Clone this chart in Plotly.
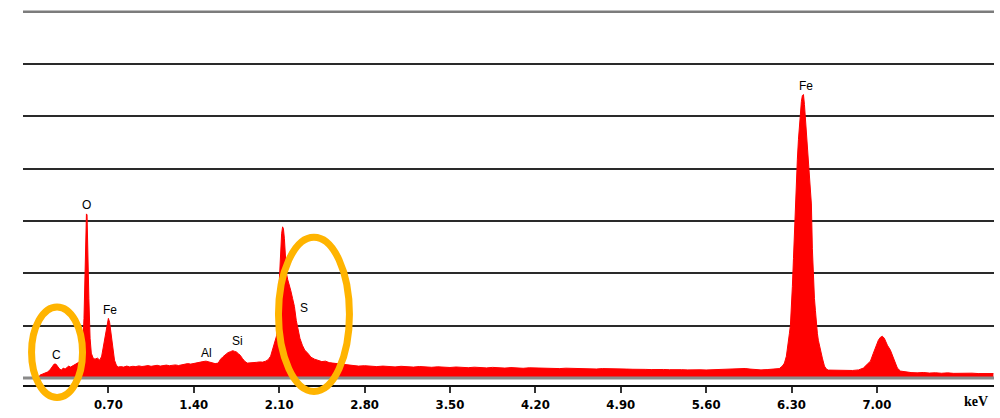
import plotly.graph_objects as go

# EDS spectrum: energy (keV) and counts per channel
energy_kev = [
    0.13, 0.14, 0.16, 0.18, 0.20, 0.22, 0.24, 0.255, 0.27, 0.285, 0.30, 0.315, 0.33, 0.345,
    0.36, 0.375, 0.39, 0.405, 0.42, 0.44, 0.46, 0.475, 0.49, 0.50, 0.51, 0.515, 0.52, 0.525,
    0.53, 0.54, 0.55, 0.56, 0.575, 0.59, 0.61, 0.63, 0.645, 0.66, 0.675, 0.69, 0.70, 0.71,
    0.72, 0.735, 0.75, 0.765, 0.78,
    0.80, 0.825, 0.85, 0.875, 0.90, 0.925, 0.95, 0.975, 1.00, 1.025, 1.05, 1.075, 1.10,
    1.125, 1.15, 1.175, 1.20, 1.225, 1.25, 1.275, 1.30, 1.325, 1.35, 1.375, 1.40, 1.425,
    1.45, 1.475, 1.50, 1.525, 1.55, 1.575, 1.60,
    1.62, 1.64, 1.66, 1.68, 1.70, 1.72, 1.735, 1.75, 1.765, 1.78, 1.80, 1.82, 1.84, 1.865,
    1.89, 1.915, 1.94, 1.965, 1.99, 2.01, 2.03, 2.05, 2.065, 2.08, 2.09, 2.10, 2.11, 2.12,
    2.128, 2.135, 2.143, 2.152, 2.16, 2.17, 2.18, 2.195, 2.21, 2.225, 2.24, 2.255, 2.27,
    2.29, 2.31, 2.335, 2.36, 2.39, 2.42, 2.45, 2.48, 2.51, 2.54, 2.57, 2.60, 2.63, 2.66,
    2.70, 2.75, 2.80, 2.85, 2.90, 2.95, 3.00, 3.05, 3.10, 3.15, 3.20, 3.25, 3.30, 3.35,
    3.40, 3.45, 3.50, 3.55, 3.60, 3.65, 3.70, 3.75, 3.80, 3.85, 3.90, 3.95, 4.00, 4.05,
    4.10, 4.15, 4.20, 4.25, 4.30, 4.35, 4.40, 4.45, 4.50, 4.55, 4.60, 4.65, 4.70, 4.75,
    4.80, 4.85, 4.90, 4.95, 5.00, 5.05, 5.10, 5.15, 5.20, 5.25, 5.30, 5.35, 5.40, 5.45,
    5.50, 5.55, 5.60, 5.65, 5.70, 5.75, 5.80, 5.85, 5.88, 5.92, 5.96, 6.00, 6.05, 6.10,
    6.15, 6.20,
    6.225, 6.242, 6.258, 6.275, 6.283, 6.291, 6.299, 6.307, 6.316, 6.324, 6.332, 6.340,
    6.348, 6.357, 6.365, 6.373, 6.381, 6.389, 6.398, 6.406, 6.414, 6.422, 6.430, 6.438,
    6.447, 6.455, 6.463, 6.471, 6.480, 6.488, 6.496, 6.504, 6.512, 6.520, 6.537, 6.553,
    6.570, 6.586, 6.602,
    6.65, 6.70, 6.75, 6.80, 6.85,
    6.889, 6.922, 6.947, 6.971, 6.988, 7.012, 7.029, 7.045, 7.061, 7.086, 7.111, 7.135,
    7.152, 7.168, 7.193, 7.234,
    7.28, 7.33, 7.38, 7.43, 7.48, 7.53, 7.58, 7.63, 7.68, 7.73, 7.78, 7.83, 7.88, 7.93, 7.955,
]

counts = [
    0, 30, 40, 50, 60, 80, 110, 140, 140, 110, 90, 80, 100, 90,
    110, 120, 110, 120, 130, 140, 160, 200, 320, 600, 1100, 1500, 1650, 1640,
    1300, 800, 400, 250, 200, 190, 200, 180, 220, 330, 460, 570, 600, 560,
    450, 300, 180, 130, 110,
    115, 110, 120, 112, 118, 115, 122, 116, 120, 125, 118, 122, 128,
    120, 126, 130, 124, 128, 132, 126, 134, 138, 145, 140, 148, 150,
    158, 165, 170, 160, 150, 145, 150,
    190, 215, 240, 255, 265, 275, 268, 262, 245, 230, 195, 165, 150, 155,
    160, 158, 162, 160, 170, 185, 220, 300, 360, 430, 700, 1000, 1250, 1450,
    1520, 1500, 1400, 1200, 1050, 990, 950, 880, 800, 720, 580, 480, 400,
    330, 280, 250, 210, 190, 175, 165, 170, 155, 150, 145, 138, 135, 130,
    128, 120, 124, 118, 115, 120, 116, 112, 118, 114, 110, 116, 112, 108,
    113, 110, 106, 111, 108, 104, 109, 105, 102, 107, 103, 100, 105, 101,
    98, 103, 100, 97, 101, 98, 95, 99, 96, 93, 97, 94, 91, 95,
    92, 89, 93, 90, 88, 91, 87, 85, 89, 86, 84, 87, 84, 82,
    85, 83, 81, 84, 82, 86, 92, 98, 100, 96, 90, 84, 82, 85,
    88, 95,
    120, 150, 220, 350, 450, 530, 700, 920, 1200, 1500, 1800, 2000,
    2200, 2400, 2550, 2680, 2780, 2840, 2850, 2750, 2620, 2450, 2350, 2220,
    2050, 1900, 1750, 1300, 950, 800, 680, 530, 450, 380, 270, 200,
    120, 90, 80,
    78, 75, 80, 76, 82,
    100, 140, 170, 250, 300, 380, 410, 420, 400, 330, 280, 200,
    140, 100, 70, 60,
    55, 52, 56, 50, 53, 48, 52, 47, 50, 46, 49, 45, 48, 46, 45,
]

tick_values = [0.70, 1.40, 2.10, 2.80, 3.50, 4.20, 4.90, 5.60, 6.30, 7.00]
tick_labels = ["0.70", "1.40", "2.10", "2.80", "3.50", "4.20", "4.90", "5.60", "6.30", "7.00"]

# element labels: (text, energy keV, counts)
peak_names = ["Fe", "O", "Fe", "C", "Al", "Si", "S"]
peak_energy = [6.422, 0.52, 0.717, 0.275, 1.504, 1.758, 2.307]
peak_label_y = [2940, 1740, 680, 230, 250, 370, 700]

grid_step = 526
grid_levels = [grid_step * k for k in range(1, 8)]

fig = go.Figure()
fig.add_trace(go.Scatter(
    x=energy_kev, y=counts, mode="lines",
    line=dict(color="#ff0000", width=1),
    fill="tozeroy", fillcolor="#ff0000",
    hoverinfo="x+y", showlegend=False,
))

for name, ex, ey in zip(peak_names, peak_energy, peak_label_y):
    fig.add_annotation(
        x=ex, y=ey, text=name, showarrow=False,
        xanchor="center", yanchor="middle",
        font=dict(family="Liberation Sans, Arial, sans-serif", size=12, color="#000"),
    )

fig.add_annotation(
    xref="paper", yref="paper", x=0.981, y=-0.043, text="keV", showarrow=False,
    xanchor="center", yanchor="middle",
    font=dict(family="Liberation Serif, Times New Roman, serif", size=14, color="#000", weight="bold"),
)

shapes = [
    # upper frame line
    dict(type="line", xref="paper", yref="y", x0=0, x1=1, y0=grid_levels[-1], y1=grid_levels[-1],
         line=dict(color="#7c7c7c", width=2.5), layer="above"),
    # baseline
    dict(type="line", xref="paper", yref="y", x0=0, x1=1, y0=0, y1=0,
         line=dict(color="#8a8a8a", width=3), layer="above"),
    # highlight rings around C and S
    dict(type="circle", xref="paper", yref="paper",
         x0=0.0088, x1=0.0613, y0=-0.0335, y1=0.2082,
         line=dict(color="#ffb400", width=7), fillcolor="rgba(0,0,0,0)", layer="above"),
    dict(type="circle", xref="paper", yref="paper",
         x0=0.2631, x1=0.3362, y0=-0.0172, y1=0.3939,
         line=dict(color="#ffb400", width=7), fillcolor="rgba(0,0,0,0)", layer="above"),
]

fig.update_layout(
    width=1000, height=418,
    margin=dict(l=23, r=6, t=10, b=31),
    paper_bgcolor="#ffffff", plot_bgcolor="#ffffff",
    shapes=shapes,
    xaxis=dict(
        range=[0, 7.96], tickvals=tick_values, ticktext=tick_labels,
        ticks="outside", ticklen=6, tickwidth=1.5, tickcolor="#333",
        showline=True, linecolor="#111", linewidth=2,
        showgrid=False, zeroline=False,
        tickfont=dict(family="Liberation Sans Narrow, DejaVu Sans Condensed, Arial Narrow, sans-serif",
                      size=13, color="#000", weight="bold"),
    ),
    yaxis=dict(
        range=[-70, 3700], tickvals=grid_levels, showticklabels=False,
        showgrid=True, gridcolor="#2a2a2a", gridwidth=1.5,
        zeroline=False, ticks="",
    ),
)

fig.write_html("out.html")
